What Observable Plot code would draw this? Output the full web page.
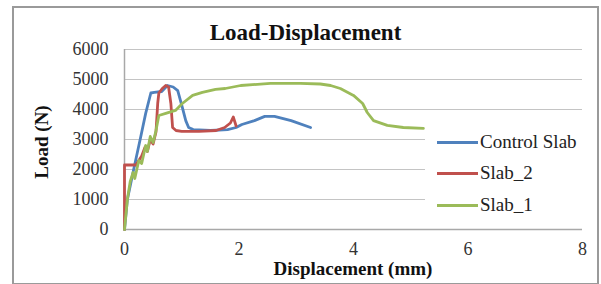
<!DOCTYPE html>
<html>
<head>
<meta charset="utf-8">
<script src="https://cdn.jsdelivr.net/npm/d3@7"></script>
<script src="https://cdn.jsdelivr.net/npm/@observablehq/plot@0.6"></script>
<style>
  html, body { margin: 0; padding: 0; background: #fff; }
  #wrap { position: relative; width: 601px; height: 284px; overflow: hidden; font-family: "Liberation Serif", "Times New Roman", serif; }
  #frame { position: absolute; left: 12px; top: 6px; width: 583px; height: 275px; border: 2px solid #9a9a9a; box-sizing: content-box; }
  #chart { position: absolute; left: 0; top: 0; }
  .title { position: absolute; left: 12px; width: 587px; top: 20px; text-align: center; font-weight: bold; font-size: 23px; color: #111; }
  .xlabel { position: absolute; left: 124px; width: 458px; top: 259px; line-height: 19px; text-align: center; font-weight: bold; font-size: 19px; color: #111; }
  .ylabel { position: absolute; left: 42px; top: 142px; transform: translate(-50%, -50%) rotate(-90deg); font-weight: bold; font-size: 19px; color: #111; white-space: nowrap; }
  #legend { position: absolute; left: 425px; top: 124px; width: 157px; height: 100px; background: #fff; }
  .item { position: absolute; left: 12px; height: 20px; display: flex; align-items: center; font-size: 19px; color: #222; }
  .swatch { width: 41px; height: 3px; margin-right: 2px; }
</style>
</head>
<body>
<div id="wrap">
  <div id="frame"></div>
  <div id="chart"></div>
  <div class="title">Load-Displacement</div>
  <div class="xlabel">Displacement (mm)</div>
  <div class="ylabel">Load (N)</div>
  <div id="legend"></div>
</div>
<script>
// ---- data ----
const seriesNames = ["Control Slab", "Slab_2", "Slab_1"];
const seriesColors = ["#4F81BD", "#C0504D", "#9BBB59"];

const controlX = [0, 0.05, 0.16, 0.28, 0.37, 0.46, 0.52, 0.65, 0.75, 0.85, 0.93, 1.01, 1.07, 1.12, 1.2, 1.5, 1.8, 1.95, 2.05, 2.27, 2.45, 2.62, 2.91, 3.25];
const controlY = [0, 1000, 2000, 3060, 3870, 4550, 4570, 4600, 4800, 4750, 4630, 4070, 3630, 3400, 3330, 3300, 3330, 3400, 3500, 3630, 3770, 3770, 3630, 3400];

const slab2X = [0, 0, 0.2, 0.3, 0.36, 0.4, 0.45, 0.5, 0.55, 0.58, 0.6, 0.66, 0.72, 0.77, 0.81, 0.84, 0.9, 1.0, 1.3, 1.6, 1.75, 1.85, 1.9, 1.95];
const slab2Y = [0, 2150, 2150, 2450, 2750, 2600, 3000, 2850, 3250, 4200, 4550, 4700, 4800, 4750, 4200, 3400, 3300, 3270, 3270, 3300, 3400, 3550, 3750, 3450];

const slab1X = [0, 0.05, 0.1, 0.15, 0.18, 0.25, 0.3, 0.37, 0.4, 0.45, 0.5, 0.55, 0.6, 0.72, 0.89, 1.01, 1.19, 1.36, 1.59, 1.76, 2.03, 2.55, 3.07, 3.42, 3.6, 3.77, 4.0, 4.16, 4.24, 4.35, 4.59, 4.87, 5.22];
const slab1Y = [0, 1000, 1600, 1900, 1700, 2300, 2200, 2800, 2600, 3100, 2900, 3300, 3800, 3870, 3970, 4200, 4470, 4570, 4670, 4700, 4800, 4870, 4870, 4850, 4800, 4700, 4470, 4200, 3900, 3630, 3470, 3400, 3370];

const xTicks = [0, 2, 4, 6, 8];
const yTicks = [0, 1000, 2000, 3000, 4000, 5000, 6000];

// ---- build table ----
const xs = [controlX, slab2X, slab1X];
const ys = [controlY, slab2Y, slab1Y];
const rows = [];
seriesNames.forEach((name, i) => {
  xs[i].forEach((x, j) => rows.push({series: name, x, y: ys[i][j]}));
});

const chart = Plot.plot({
  width: 601,
  height: 284,
  marginLeft: 124,
  marginRight: 19,
  marginTop: 49,
  marginBottom: 55,
  style: { fontFamily: "Liberation Serif, serif", fontSize: "18px", background: "transparent", color: "#333" },
  x: { domain: [0, 8], label: null },
  y: { domain: [0, 6000], label: null },
  color: { domain: seriesNames, range: seriesColors },
  marks: [
    Plot.gridY(yTicks, { stroke: "#c4c4c4", strokeOpacity: 1, strokeWidth: 1.2 }),
    Plot.ruleX([0], { stroke: "#a8a8a8", strokeWidth: 1.5 }),
    Plot.ruleY([0], { stroke: "#a8a8a8", strokeWidth: 1.5 }),
    Plot.axisX({ ticks: xTicks, tickSize: 0, tickPadding: 13, fontSize: 18, label: null, fill: "#333" }),
    Plot.axisY({ ticks: yTicks, tickSize: 0, tickPadding: 16, fontSize: 18, label: null, fill: "#333", tickFormat: d => String(d) }),
    Plot.line(rows, { x: "x", y: "y", z: "series", stroke: "series", strokeWidth: 2.8, strokeLinejoin: "round", strokeLinecap: "round" })
  ]
});
document.getElementById("chart").appendChild(chart);

// ---- legend ----
const legend = document.getElementById("legend");
const legendTops = [8, 39, 71];
seriesNames.forEach((name, i) => {
  const it = document.createElement("div");
  it.className = "item";
  it.style.top = legendTops[i] + "px";
  const sw = document.createElement("span");
  sw.className = "swatch";
  sw.style.background = seriesColors[i];
  const tx = document.createElement("span");
  tx.textContent = name;
  it.appendChild(sw);
  it.appendChild(tx);
  legend.appendChild(it);
});
</script>
</body>
</html>
